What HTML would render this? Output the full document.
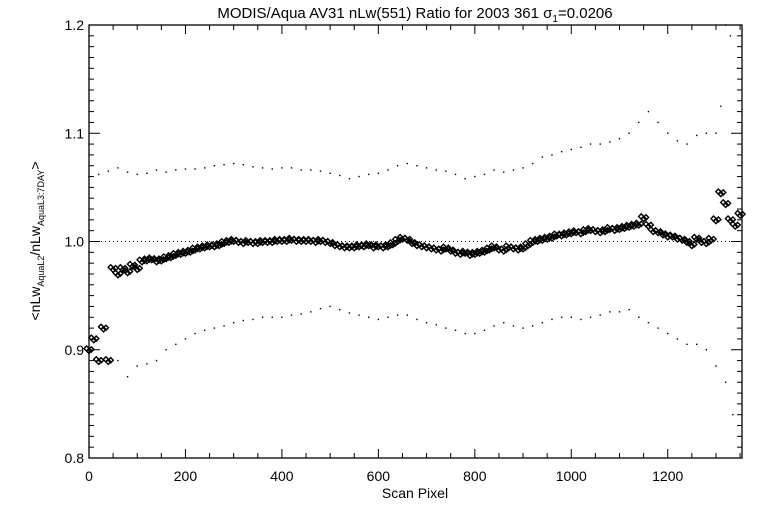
<!DOCTYPE html>
<html><head><meta charset="utf-8"><style>
html,body{margin:0;padding:0;background:#fff;}
svg{display:block;font-family:"Liberation Sans",sans-serif;}
</style></head><body>
<svg id="chart" width="768" height="512" viewBox="0 0 768 512" xmlns="http://www.w3.org/2000/svg">
<rect x="0" y="0" width="768" height="512" fill="#fff"/>
<text x="415" y="18" font-size="15" text-anchor="middle">MODIS/Aqua AV31 nLw(551) Ratio for 2003 361 σ<tspan font-size="10" dy="4">1</tspan><tspan dy="-4">=0.0206</tspan></text>
<text x="415" y="498" font-size="14" text-anchor="middle">Scan Pixel</text>
<text transform="translate(40,241) rotate(-90)" font-size="14" text-anchor="middle">&lt;nLw<tspan font-size="9" dy="4">AquaL2</tspan><tspan dy="-4">/nLw</tspan><tspan font-size="9" dy="4">AquaL3:7DAY</tspan><tspan dy="-4">&gt;</tspan></text>
<g id="axes"></g>
<g id="marks"></g>
</svg>
<script>
const xTicks=[0,200,400,600,800,1000,1200];
const yTicks=[0.8,0.9,1.0,1.1,1.2];
const yTickLabels=["0.8","0.9","1.0","1.1","1.2"];
const mainStart=0, mainStep=10;
const mainValues=[0.90,0.91,0.89,0.92,0.89,0.975,0.97,0.975,0.972,0.978,0.975,0.982,0.983,0.984,0.982,0.983,0.985,0.986,0.988,0.989,0.99,0.991,0.993,0.994,0.995,0.996,0.996,0.997,0.999,1.0,1.001,1.0,0.999,1.0,0.999,0.999,1.0,1.0,1.0,1.001,1.001,1.001,1.002,1.001,1.001,1.001,1.001,1.0,1.001,1.0,0.999,0.997,0.996,0.995,0.995,0.995,0.996,0.996,0.997,0.995,0.996,0.995,0.996,0.998,1.001,1.003,1.002,0.999,0.997,0.996,0.995,0.994,0.993,0.992,0.994,0.992,0.990,0.989,0.99,0.988,0.989,0.990,0.991,0.993,0.995,0.993,0.992,0.995,0.994,0.993,0.994,0.997,1.0,1.001,1.002,1.003,1.004,1.006,1.006,1.007,1.008,1.009,1.008,1.01,1.011,1.01,1.009,1.01,1.012,1.011,1.012,1.013,1.014,1.015,1.016,1.022,1.015,1.01,1.009,1.007,1.005,1.005,1.003,1.002,1.0,0.997,1.003,1.0,0.999,1.002,1.02,1.045,1.035,1.02,1.015,1.025];
const upperX=[0,20,40,60,80,100,120,140,160,180,200,220,240,260,280,300,320,340,360,380,400,420,440,460,480,500,520,540,560,580,600,620,640,660,680,700,720,740,760,780,800,820,840,860,880,900,920,940,960,980,1000,1020,1040,1060,1080,1100,1120,1140,1160,1180,1200,1220,1240,1260,1280,1300,1310,1320,1330,1345];
const upperValues=[1.06,1.062,1.065,1.068,1.064,1.062,1.063,1.066,1.064,1.066,1.067,1.067,1.068,1.07,1.071,1.072,1.071,1.069,1.068,1.067,1.068,1.068,1.066,1.066,1.065,1.063,1.061,1.058,1.06,1.062,1.063,1.066,1.07,1.072,1.07,1.068,1.066,1.065,1.062,1.058,1.06,1.062,1.066,1.064,1.066,1.068,1.072,1.078,1.08,1.083,1.085,1.087,1.09,1.09,1.092,1.095,1.1,1.11,1.12,1.11,1.1,1.093,1.09,1.098,1.1,1.1,1.125,1.2,1.19,1.16];
const lowerX=[60,80,100,120,140,160,180,200,220,240,260,280,300,320,340,360,380,400,420,440,460,480,500,520,540,560,580,600,620,640,660,680,700,720,740,760,780,800,820,840,860,880,900,920,940,960,980,1000,1020,1040,1060,1080,1100,1120,1140,1160,1180,1200,1220,1240,1260,1280,1300,1320,1335];
const lowerValues=[0.89,0.875,0.885,0.887,0.89,0.9,0.905,0.91,0.915,0.918,0.92,0.922,0.925,0.927,0.928,0.93,0.93,0.93,0.932,0.933,0.935,0.938,0.94,0.937,0.934,0.932,0.93,0.928,0.93,0.932,0.932,0.928,0.925,0.923,0.92,0.918,0.915,0.915,0.918,0.922,0.925,0.922,0.92,0.922,0.925,0.928,0.93,0.93,0.928,0.93,0.932,0.935,0.935,0.937,0.93,0.925,0.92,0.915,0.91,0.905,0.905,0.9,0.885,0.87,0.84];

const L=89,R=742,T=25,B=458,XMAX=1354,YMIN=0.8,YMAX=1.2;
const ns="http://www.w3.org/2000/svg";
function xs(v){return L+(v/XMAX)*(R-L);}
function ys(v){return B-(v-YMIN)/(YMAX-YMIN)*(B-T);}
const axes=document.getElementById('axes'), marks=document.getElementById('marks');
function mk(tag,attrs,parent){const e=document.createElementNS(ns,tag);for(const k in attrs)e.setAttribute(k,attrs[k]);parent.appendChild(e);return e;}

const frame=mk('rect',{x:L,y:T,width:R-L,height:B-T,fill:'none',stroke:'#000','stroke-width':1.3},axes);


for(let v=0;v<=XMAX;v+=50){
  const major=v%200===0, len=major?9:5, x=xs(v);
  mk('line',{x1:x,y1:B,x2:x,y2:B-len,stroke:'#000'},axes);
  mk('line',{x1:x,y1:T,x2:x,y2:T+len,stroke:'#000'},axes);
}
xTicks.forEach(v=>{
  const t=mk('text',{x:xs(v),y:481,'font-size':14,'text-anchor':'middle'},axes);
  t.textContent=String(v);
  
  
});
for(let i=0;i<=40;i++){
  const v=YMIN+i*0.01, major=i%10===0, len=major?11:5, y=ys(v);
  mk('line',{x1:L,y1:y,x2:L+len,y2:y,stroke:'#000'},axes);
  mk('line',{x1:R,y1:y,x2:R-len,y2:y,stroke:'#000'},axes);
}
yTicks.forEach((v,i)=>{
  const t=mk('text',{x:84,y:ys(v)+5,'font-size':14,'text-anchor':'end'},axes);
  t.textContent=yTickLabels[i];
  
  
});
const ref=mk('line',{x1:L,y1:ys(1.0),x2:R,y2:ys(1.0),stroke:'#000','stroke-dasharray':'1 3'},axes);



function dots(xsArr,vals,name){
  xsArr.forEach((xv,i)=>{
    const d=mk('rect',{x:xs(xv)-0.7,y:ys(vals[i])-0.7,width:1.4,height:1.4,fill:'#000'},marks);
    
    
  });
}
dots(upperX,upperValues,'upper-envelope-point');
dots(lowerX,lowerValues,'lower-envelope-point');
mainValues.forEach((v,i)=>{
  const x=xs(mainStart+i*mainStep), y=ys(v), r=2.6;
  [[-2.4,-1.2],[0,1.2],[2.4,-0.3]].forEach(o=>{
    const p=mk('path',{d:`M${x+o[0]} ${y+o[1]-r}L${x+o[0]+r} ${y+o[1]}L${x+o[0]} ${y+o[1]+r}L${x+o[0]-r} ${y+o[1]}Z`,fill:'none',stroke:'#000','stroke-width':1.4},marks);
    
    
  });
});
</script>
</body></html>
